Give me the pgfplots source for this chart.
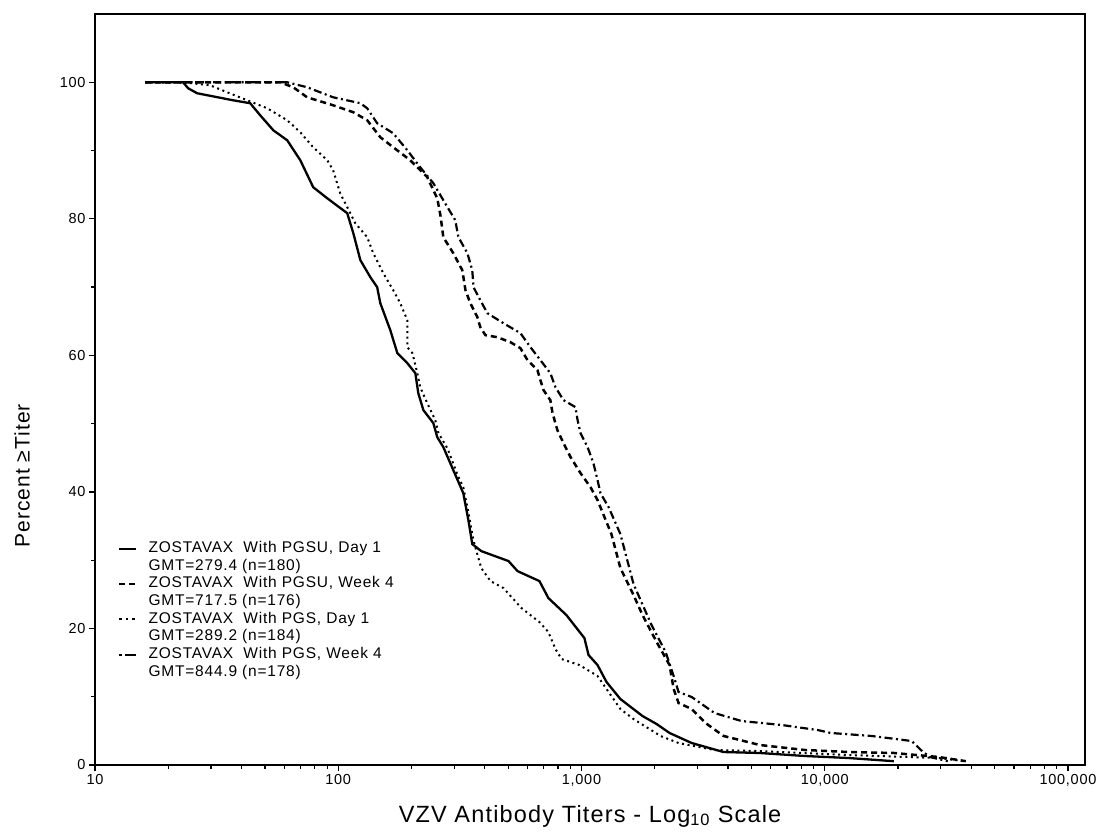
\documentclass[border=0pt]{standalone}
\usepackage{fontspec}
\setmainfont{Liberation Sans}[LetterSpace=5]
\usepackage{pgfplots}
\pgfplotsset{compat=1.18}
\tikzset{
  solidst/.style={black, line width=2.3pt, solid},
  dashst/.style={black, line width=2.5pt, dash pattern=on 6pt off 4pt},
  dotst/.style={black, line width=2.0pt, dash pattern=on 2pt off 3.6pt},
  dashdotst/.style={black, line width=2.2pt, dash pattern=on 8pt off 3.5pt on 2pt off 3.5pt},
}
\begin{document}
\begin{tikzpicture}
\begin{axis}[
  scale only axis, width=990pt, height=751pt,
  xmin=1, xmax=5.07, ymin=0, ymax=110,
  axis line style={line width=1.5pt},
  tick pos=left, tick align=outside,
  major tick length=6pt, minor tick length=3.5pt,
  every tick/.style={black, line width=1.2pt},
  xtick={1,2,3,4,5},
  xticklabels={10,100,{1,000},{10,000},{100,000}},
  minor xtick={1.30103,1.47712,1.60206,1.69897,1.77815,1.84510,1.90309,1.95424,
               2.30103,2.47712,2.60206,2.69897,2.77815,2.84510,2.90309,2.95424,
               3.30103,3.47712,3.60206,3.69897,3.77815,3.84510,3.90309,3.95424,
               4.30103,4.47712,4.60206,4.69897,4.77815,4.84510,4.90309,4.95424},
  ytick={0,20,40,60,80,100},
  minor ytick={10,30,50,70,90},
  /pgf/number format/assume math mode=true,
  ticklabel style={font=\fontsize{14.5}{16}\selectfont},
  xlabel={VZV Antibody Titers - Log\textsubscript{10} Scale},
  xlabel style={font=\fontsize{23.5}{26}\selectfont, at={(axis description cs:0.5,-0.068)}, anchor=center},
  ylabel={Percent ≥Titer},
  ylabel style={font=\fontsize{21}{24}\selectfont, at={(axis description cs:-0.0737,0.385)}, anchor=center},
  legend cell align=left,
  legend image code/.code={\draw[#1] (0pt,0pt) -- (17pt,0pt);},
  legend style={draw=none, fill=none, at={(axis description cs:0.0232,0.298)}, anchor=north west,
    inner sep=0pt, row sep=3.2pt, column sep=11pt,
    font=\fontsize{15.5}{17}\selectfont,
    nodes={inner sep=0pt, text height=11pt, text depth=3.5pt}},
]
% ZOSTAVAX With PGSU, Day 1 (solid)
\addplot[solidst, forget plot] table {
x y
1.206 100
1.362 100
1.383 99.12
1.420 98.39
1.568 97.36
1.638 96.93
1.679 95.17
1.733 92.97
1.790 91.51
1.844 88.58
1.897 84.63
1.955 83.00
2.037 80.82
2.062 77.89
2.091 73.94
2.132 71.45
2.160 69.99
2.173 67.64
2.214 63.69
2.243 60.32
2.284 58.86
2.317 57.39
2.329 54.47
2.350 51.98
2.391 50.07
2.407 48.02
2.432 46.56
2.473 43.19
2.514 39.82
2.535 35.87
2.551 32.36
2.588 31.33
2.700 29.87
2.737 28.40
2.827 26.94
2.864 24.45
2.938 21.96
3.012 18.59
3.029 16.11
3.066 14.64
3.103 12.15
3.160 9.66
3.251 7.17
3.309 6.00
3.362 4.69
3.453 3.22
3.584 1.90
3.733 1.76
3.918 1.32
4.099 1.02
4.284 0.56
};
% ZOSTAVAX With PGSU, Week 4 (dashed)
\addplot[dashst, forget plot] table {
x y
1.206 100
1.761 100
1.815 99.27
1.872 97.80
1.979 96.63
2.062 95.61
2.119 94.44
2.173 91.95
2.226 90.48
2.296 88.58
2.366 86.09
2.407 83.00
2.420 80.53
2.432 77.31
2.473 74.96
2.510 72.47
2.523 69.55
2.543 67.64
2.572 65.59
2.584 64.13
2.605 62.96
2.654 62.66
2.708 61.93
2.749 61.05
2.778 59.30
2.819 57.83
2.831 56.37
2.844 54.90
2.872 53.44
2.881 51.54
2.901 49.05
2.926 47.14
2.955 45.10
2.996 42.75
3.037 40.70
3.066 38.80
3.123 33.82
3.160 28.84
3.214 24.89
3.251 21.96
3.309 18.01
3.362 14.64
3.379 11.13
3.399 9.08
3.453 8.20
3.510 6.15
3.584 4.25
3.733 2.93
3.918 2.20
4.099 1.90
4.284 1.76
4.469 1.17
4.580 0.56
};
% ZOSTAVAX With PGS, Day 1 (dotted)
\addplot[dotst, forget plot] table {
x y
1.206 100
1.362 100
1.473 99.56
1.543 98.54
1.626 97.36
1.708 96.19
1.790 94.44
1.844 92.68
1.897 90.48
1.955 88.58
1.979 87.12
2.008 83.75
2.037 81.70
2.070 79.36
2.119 77.31
2.144 74.96
2.185 72.04
2.226 69.55
2.255 67.64
2.284 65.15
2.284 61.20
2.305 60.32
2.325 57.39
2.337 55.34
2.366 53.00
2.399 50.51
2.412 48.61
2.450 46.30
2.490 42.50
2.514 40.70
2.535 37.00
2.551 33.80
2.560 32.36
2.588 28.84
2.626 26.94
2.679 25.92
2.753 22.99
2.827 20.94
2.864 19.47
2.893 16.98
2.918 15.52
2.992 14.64
3.066 13.03
3.123 10.10
3.160 8.20
3.214 6.73
3.325 4.25
3.399 3.22
3.547 2.20
3.733 2.05
4.099 1.46
4.469 1.02
4.580 0.54
};
% ZOSTAVAX With PGS, Week 4 (dash-dot)
\addplot[dashdotst, forget plot] table {
x y
1.206 100
1.790 100
1.872 99.27
1.979 97.80
2.091 96.93
2.119 96.19
2.160 94.00
2.226 92.53
2.284 90.04
2.337 87.55
2.391 85.21
2.449 81.70
2.481 79.80
2.494 77.31
2.531 74.96
2.551 72.47
2.556 69.99
2.584 68.09
2.613 66.18
2.679 64.71
2.749 63.25
2.790 61.20
2.831 59.30
2.872 57.39
2.893 55.34
2.926 53.44
2.975 52.42
2.984 50.51
2.996 48.61
3.025 46.56
3.049 44.22
3.066 41.73
3.078 39.82
3.111 37.80
3.160 33.82
3.214 26.50
3.288 20.50
3.346 16.54
3.379 13.03
3.399 10.69
3.453 9.96
3.547 7.61
3.658 6.44
3.823 5.86
3.971 5.12
4.025 4.69
4.193 4.25
4.358 3.51
4.395 2.20
4.432 1.17
4.506 0.56
};
\addlegendimage{solidst}
\addlegendentry{ZOSTAVAX\ \ With PGSU, Day 1}
\addlegendimage{empty legend}
\addlegendentry{GMT=279.4 (n=180)}
\addlegendimage{dashst}
\addlegendentry{ZOSTAVAX\ \ With PGSU, Week 4}
\addlegendimage{empty legend}
\addlegendentry{GMT=717.5 (n=176)}
\addlegendimage{dotst, dash pattern=on 2.4pt off 4pt}
\addlegendentry{ZOSTAVAX\ \ With PGS, Day 1}
\addlegendimage{empty legend}
\addlegendentry{GMT=289.2 (n=184)}
\addlegendimage{dashdotst, dash pattern=on 2.4pt off 3.5pt on 11pt off 3pt}
\addlegendentry{ZOSTAVAX\ \ With PGS, Week 4}
\addlegendimage{empty legend}
\addlegendentry{GMT=844.9 (n=178)}
\end{axis}
\pgfresetboundingbox
\path (-95pt,-74pt) rectangle (1008pt,765pt);
\end{tikzpicture}
\end{document}
